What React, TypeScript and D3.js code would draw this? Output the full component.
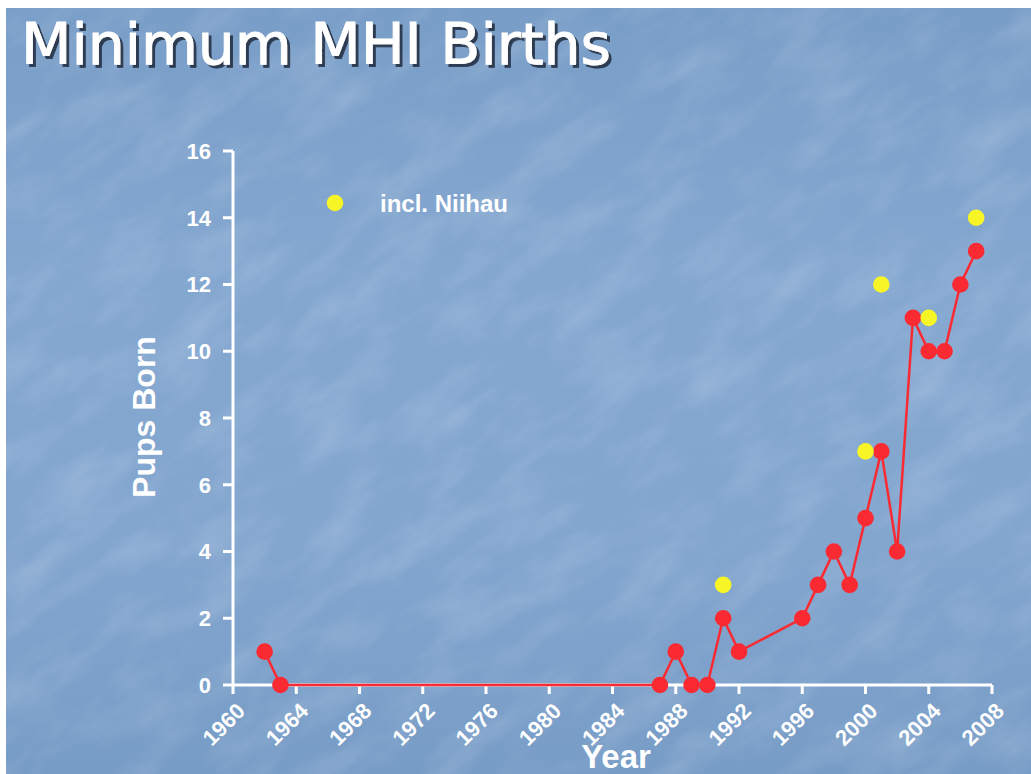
import React from "react";
import * as d3 from "d3";

const years = [1962, 1963, 1987, 1988, 1989, 1990, 1991, 1992, 1996, 1997, 1998, 1999, 2000, 2001, 2002, 2003, 2004, 2005, 2006, 2007];
const pups = [1, 0, 0, 1, 0, 0, 2, 1, 2, 3, 4, 3, 5, 7, 4, 11, 10, 10, 12, 13];
const niihauYears = [1991, 2000, 2001, 2004, 2007];
const niihauPups = [3, 7, 12, 11, 14];
const xTicks = [1960, 1964, 1968, 1972, 1976, 1980, 1984, 1988, 1992, 1996, 2000, 2004, 2008];
const yTicks = [0, 2, 4, 6, 8, 10, 12, 14, 16];

const W = 1031, H = 774;
const M = { left: 233, right: 992, top: 151, bottom: 685 };

export default function App() {
  const x = d3.scaleLinear().domain([1960, 2008]).range([M.left, M.right]);
  const y = d3.scaleLinear().domain([0, 16]).range([M.bottom, M.top]);
  const pts = years.map((yr, i) => [yr, pups[i]] as [number, number]);
  const line = d3.line<[number, number]>().x(d => x(d[0])).y(d => y(d[1]));
  const font = "'Liberation Sans', Arial, sans-serif";
  const red = "#fa2a32";
  const yellow = "#f7f526";
  return (
    <svg width={W} height={H} style={{ position: "absolute", left: 0, top: 0, display: "block" }}>
      <defs>
        <linearGradient id="bg" x1="0" y1="0" x2="0" y2="1">
          <stop offset="0" stopColor="#789dc7" />
          <stop offset="0.35" stopColor="#84a7d0" />
          <stop offset="0.7" stopColor="#83a6cf" />
          <stop offset="1" stopColor="#779cc6" />
        </linearGradient>
        <filter id="tex" x="0" y="0" width="100%" height="100%">
          <feTurbulence type="fractalNoise" baseFrequency="0.02 0.05" numOctaves="4" seed="7" result="n" />
          <feColorMatrix type="matrix" values="0 0 0 0 1  0 0 0 0 1  0 0 0 0 1  0 0 1.1 0 -0.45" />
        </filter>
        <filter id="shadow" x="-5%" y="-20%" width="110%" height="140%">
          <feDropShadow dx="3" dy="3" stdDeviation="0.5" floodColor="#1e2a3c" floodOpacity="0.85" />
        </filter>
      </defs>
      <rect width={W} height={H} fill="url(#bg)" />
      <rect width={W} height={H} filter="url(#tex)" opacity={0.28} transform="rotate(-35 515 387) scale(1.7) translate(-215 -160)" />
      <rect x={0} y={0} width={W} height={8} fill="#ffffff" />
      <rect x={0} y={0} width={6} height={H} fill="#ffffff" />

      <text x={21} y={64} fill="#ffffff" stroke="#ffffff" strokeWidth={0.8} fontFamily="'DejaVu Sans Condensed', 'DejaVu Sans', sans-serif" fontSize={57} filter="url(#shadow)" textLength={590} lengthAdjust="spacingAndGlyphs">Minimum MHI Births</text>

      {/* axes */}
      <line x1={M.left} x2={M.left} y1={y(16)} y2={y(0)} stroke="#fff" strokeWidth={3} />
      <line x1={M.left} x2={M.right} y1={y(0)} y2={y(0)} stroke="#fff" strokeWidth={3} />
      {yTicks.map(t => (
        <g key={"y" + t}>
          <line x1={M.left - 10} x2={M.left} y1={y(t)} y2={y(t)} stroke="#fff" strokeWidth={3} />
          <text x={M.left - 22} y={y(t)} dy="0.36em" textAnchor="end" fill="#fff" fontFamily={font} fontWeight="bold" fontSize={22}>{t}</text>
        </g>
      ))}
      {xTicks.map(t => (
        <g key={"x" + t}>
          <line x1={x(t)} x2={x(t)} y1={y(0)} y2={y(0) + 9} stroke="#fff" strokeWidth={3} />
          <text transform={`translate(${x(t) + 8},${y(0) + 22}) rotate(-45)`} textAnchor="end" dy="0.35em" fill="#fff" fontFamily={font} fontWeight="bold" fontSize={22}>{t}</text>
        </g>
      ))}
      <text x={616} y={768} textAnchor="middle" fill="#fff" fontFamily={font} fontWeight="bold" fontSize={33}>Year</text>
      <text transform={`translate(155,417) rotate(-90)`} textAnchor="middle" fill="#fff" fontFamily={font} fontWeight="bold" fontSize={32}>Pups Born</text>

      {/* series */}
      <path d={line(pts) || ""} fill="none" stroke={red} strokeWidth={2.5} />
      {pts.map((d, i) => (
        <circle key={"r" + i} cx={x(d[0])} cy={y(d[1])} r={8.3} fill={red} />
      ))}
      {niihauYears.map((yr, i) => (
        <circle key={"n" + i} cx={x(yr)} cy={y(niihauPups[i])} r={8.3} fill={yellow} />
      ))}

      {/* legend */}
      <circle cx={335} cy={203} r={8.3} fill={yellow} />
      <text x={380} y={203} dy="0.36em" fill="#fff" fontFamily={font} fontWeight="bold" fontSize={24}>incl. Niihau</text>
    </svg>
  );
}
